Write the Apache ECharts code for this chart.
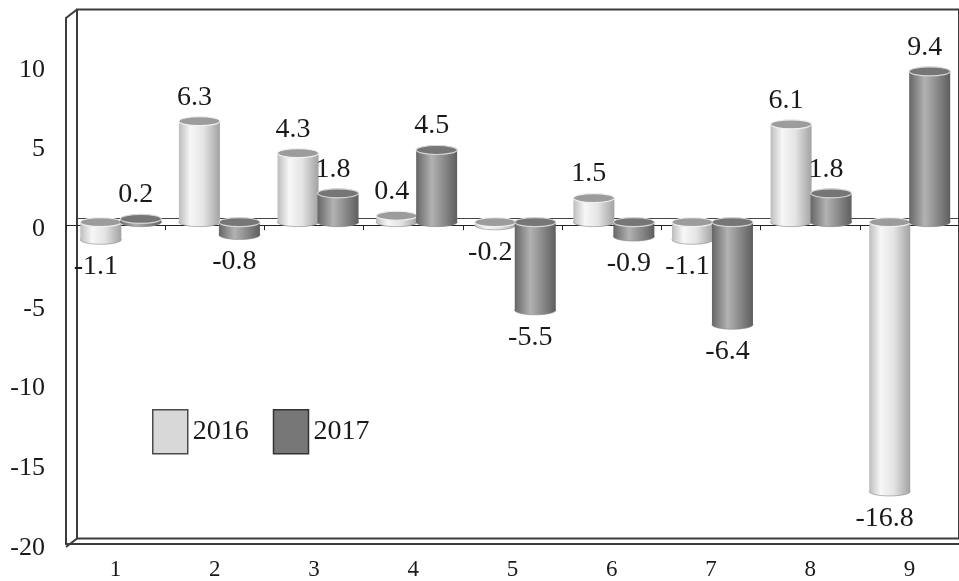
<!DOCTYPE html>
<html>
<head>
<meta charset="utf-8">
<script src="https://cdn.jsdelivr.net/npm/echarts@6/dist/echarts.min.js"></script>
<style>
  html, body { margin: 0; padding: 0; background: #ffffff; }
  #chart { width: 959px; height: 581px; }
</style>
</head>
<body>
<div id="chart"></div>
<script>
const categories = ['1', '2', '3', '4', '5', '6', '7', '8', '9'];
const values2016 = [-1.1, 6.3, 4.3, 0.4, -0.2, 1.5, -1.1, 6.1, -16.8];
const values2017 = [0.2, -0.8, 1.8, 4.5, -5.5, -0.9, -6.4, 1.8, 9.4];
const seriesNames = ['2016', '2017'];

const Y_MIN = -20;
const Y_MAX = 13;
const FRAME = '#3c3c3c';
const FONT = '"Liberation Serif", "Times New Roman", serif';
const BAR_W = 41;
const DEPTH_X = 11;
const DEPTH_Y = 8.5;

// front plane of the box
const FRONT = { left: 66, top: 18, width: 896, height: 529 };

const PALETTE = {
  light: {
    stops: [
      [0, '#bdbdbd'],
      [0.28, '#f7f7f7'],
      [0.6, '#e4e4e4'],
      [1, '#a2a2a2'],
    ],
    cap: '#9c9c9c',
    rim: '#f0f0f0',
    legend: '#d8d8d8',
  },
  dark: {
    stops: [
      [0, '#666666'],
      [0.38, '#b2b2b2'],
      [0.62, '#929292'],
      [1, '#5e5e5e'],
    ],
    cap: '#767676',
    rim: '#d6d6d6',
    legend: '#777777',
  },
};

function gradient(stops) {
  return new echarts.graphic.LinearGradient(
    0, 0, 1, 0,
    stops.map(([offset, color]) => ({ offset, color })),
  );
}

function cylinder(offset, tone) {
  return function renderItem(params, api) {
    const idx = api.value(0);
    const v = api.value(1);
    const base = api.coord([idx, 0]);
    const end = api.coord([idx, v]);
    const cx = base[0] + offset;
    const rx = BAR_W / 2;
    const ry = 4.5;
    const yTop = Math.min(base[1], end[1]);
    const yBot = Math.max(base[1], end[1]);
    const labelY = v >= 0 ? yTop - 24 : yBot + 27;

    return {
      type: 'group',
      children: [
        {
          type: 'ellipse',
          shape: { cx, cy: yBot, rx, ry },
          style: { fill: gradient(tone.stops), stroke: '#8a8a8a', lineWidth: 0.6 },
        },
        {
          type: 'rect',
          shape: { x: cx - rx, y: yTop, width: rx * 2, height: yBot - yTop },
          style: { fill: gradient(tone.stops) },
        },
        {
          type: 'ellipse',
          shape: { cx, cy: yTop, rx, ry },
          style: { fill: tone.cap, stroke: tone.rim, lineWidth: 1.2 },
        },
        {
          type: 'text',
          style: {
            text: String(v),
            x: cx - 5,
            y: labelY,
            align: 'center',
            verticalAlign: 'middle',
            font: `28px ${FONT}`,
            fill: '#1a1a1a',
          },
        },
      ],
    };
  };
}

function toData(values) {
  return values.map((value, index) => [index, value]);
}

const back = {
  left: FRONT.left + DEPTH_X,
  top: FRONT.top - DEPTH_Y,
  width: FRONT.width,
  height: FRONT.height,
};
const mid = {
  left: FRONT.left + DEPTH_X / 2,
  top: FRONT.top - DEPTH_Y / 2,
  width: FRONT.width,
  height: FRONT.height,
};

const chart = echarts.init(document.getElementById('chart'), null, { renderer: 'canvas' });

chart.setOption({
  animation: false,
  backgroundColor: '#ffffff',
  textStyle: { fontFamily: FONT },
  grid: [
    { ...FRONT, containLabel: false },
    {
      ...back,
      show: true,
      borderColor: FRAME,
      borderWidth: 2,
      backgroundColor: 'transparent',
      containLabel: false,
    },
    { ...mid, containLabel: false },
  ],
  legend: {
    left: 152,
    top: 409,
    padding: 0,
    itemWidth: 35,
    itemHeight: 44,
    itemGap: 24,
    icon: 'rect',
    textStyle: { fontFamily: FONT, fontSize: 28, color: '#1a1a1a' },
    data: [
      {
        name: seriesNames[0],
        itemStyle: { color: PALETTE.light.legend, borderColor: '#4a4a4a', borderWidth: 1.5 },
      },
      {
        name: seriesNames[1],
        itemStyle: { color: PALETTE.dark.legend, borderColor: '#333333', borderWidth: 1.5 },
      },
    ],
  },
  xAxis: [
    {
      gridIndex: 0,
      type: 'category',
      data: categories,
      position: 'bottom',
      axisLine: { onZero: false, lineStyle: { color: FRAME, width: 2 } },
      axisTick: { show: false },
      axisLabel: { color: '#1a1a1a', fontFamily: FONT, fontSize: 23, margin: 14 },
      splitLine: { show: false },
    },
    {
      gridIndex: 0,
      type: 'category',
      data: categories,
      position: 'top',
      axisLine: { onZero: true, lineStyle: { color: '#222222', width: 1 } },
      axisTick: { show: true, inside: true, length: 5, lineStyle: { color: '#222222' } },
      axisLabel: { show: false },
      splitLine: { show: false },
    },
    {
      gridIndex: 1,
      type: 'category',
      data: categories,
      axisLine: { onZero: true, lineStyle: { color: '#444444', width: 1 } },
      axisTick: { show: false },
      axisLabel: { show: false },
      splitLine: { show: false },
    },
    {
      gridIndex: 2,
      type: 'category',
      data: categories,
      show: false,
    },
  ],
  yAxis: [
    {
      gridIndex: 0,
      type: 'value',
      min: Y_MIN,
      max: Y_MAX,
      interval: 5,
      axisLine: { show: true, lineStyle: { color: FRAME, width: 2 } },
      axisTick: { show: false },
      splitLine: { show: false },
      axisLabel: {
        color: '#1a1a1a',
        fontFamily: FONT,
        fontSize: 26,
        margin: 21,
        verticalAlign: 'top',
        lineHeight: 30,
        padding: [-11, 0, 0, 0],
        formatter: (v) => (v % 5 === 0 ? String(v) : ''),
      },
    },
    {
      gridIndex: 1,
      type: 'value',
      min: Y_MIN,
      max: Y_MAX,
      show: false,
    },
    {
      gridIndex: 2,
      type: 'value',
      min: Y_MIN,
      max: Y_MAX,
      show: false,
    },
  ],
  graphic: [
    {
      type: 'line',
      shape: { x1: FRONT.left, y1: FRONT.top, x2: back.left, y2: back.top },
      style: { stroke: FRAME, lineWidth: 2 },
    },
    {
      type: 'line',
      shape: {
        x1: FRONT.left,
        y1: FRONT.top + FRONT.height,
        x2: back.left,
        y2: back.top + back.height,
      },
      style: { stroke: FRAME, lineWidth: 2 },
    },
  ],
  series: [
    {
      name: seriesNames[0],
      type: 'custom',
      xAxisIndex: 3,
      yAxisIndex: 2,
      clip: false,
      z: 3,
      itemStyle: { color: PALETTE.light.legend },
      encode: { x: 0, y: 1 },
      data: toData(values2016),
      renderItem: cylinder(-20, PALETTE.light),
    },
    {
      name: seriesNames[1],
      type: 'custom',
      xAxisIndex: 3,
      yAxisIndex: 2,
      clip: false,
      z: 4,
      itemStyle: { color: PALETTE.dark.legend },
      encode: { x: 0, y: 1 },
      data: toData(values2017),
      renderItem: cylinder(20, PALETTE.dark),
    },
  ],
});
</script>
</body>
</html>
